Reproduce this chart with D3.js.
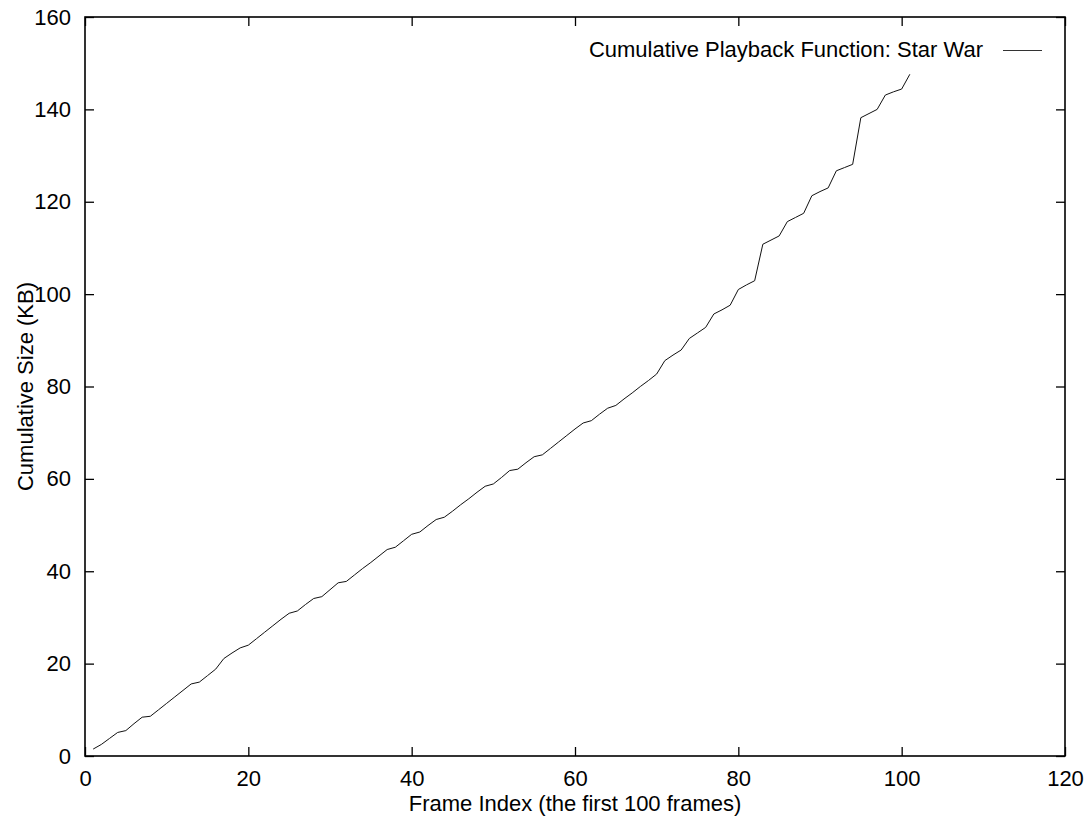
<!DOCTYPE html>
<html>
<head>
<meta charset="utf-8">
<script src="https://cdn.jsdelivr.net/npm/d3@7"></script>
<style>
  body { margin: 0; background: #fff; }
  svg { display: block; }
  text { font-family: "Liberation Sans", Arial, sans-serif; fill: #000; }
</style>
</head>
<body>
<svg width="1092" height="816"></svg>
<script>
const svg = d3.select("svg");
const width = +svg.attr("width");
const height = +svg.attr("height");

const margin = { top: 17, right: 27, bottom: 60, left: 85 };

/* ===== DATA ===== */

const frames = [
    1, 2, 3, 4, 5, 6, 7, 8, 9, 10,
    11, 12, 13, 14, 15, 16, 17, 18, 19, 20,
    21, 22, 23, 24, 25, 26, 27, 28, 29, 30,
    31, 32, 33, 34, 35, 36, 37, 38, 39, 40,
    41, 42, 43, 44, 45, 46, 47, 48, 49, 50,
    51, 52, 53, 54, 55, 56, 57, 58, 59, 60,
    61, 62, 63, 64, 65, 66, 67, 68, 69, 70,
    71, 72, 73, 74, 75, 76, 77, 78, 79, 80,
    81, 82, 83, 84, 85, 86, 87, 88, 89, 90,
    91, 92, 93, 94, 95, 96, 97, 98, 99, 100,
    101
];

const cumulativeKB = [
    1.5, 2.5, 3.8, 5.1, 5.5, 7.0, 8.4, 8.6, 10.0, 11.4,
    12.8, 14.2, 15.6, 16.0, 17.4, 18.8, 21.1, 22.3, 23.4, 24.0,
    25.4, 26.8, 28.2, 29.6, 30.9, 31.4, 32.8, 34.1, 34.5, 36.0,
    37.5, 37.8, 39.2, 40.6, 41.9, 43.3, 44.7, 45.2, 46.6, 48.0,
    48.5, 49.9, 51.2, 51.7, 53.0, 54.4, 55.7, 57.1, 58.4, 58.9,
    60.3, 61.8, 62.1, 63.5, 64.8, 65.2, 66.6, 68.0, 69.4, 70.8,
    72.1, 72.6, 74.0, 75.3, 75.9, 77.3, 78.6, 80.0, 81.3, 82.7,
    85.6, 86.8, 87.9, 90.4, 91.6, 92.8, 95.7, 96.6, 97.6, 101.0,
    102.0, 102.9, 110.8, 111.7, 112.6, 115.7, 116.6, 117.5, 121.3, 122.2,
    123.0, 126.7, 127.4, 128.1, 138.2, 139.1, 140.0, 143.1, 143.8, 144.4,
    147.6
];

const xTicks = [0, 20, 40, 60, 80, 100, 120];
const yTicks = [0, 20, 40, 60, 80, 100, 120, 140, 160];

const seriesName = "Cumulative Playback Function: Star War";
const xTitle = "Frame Index (the first 100 frames)";
const yTitle = "Cumulative Size (KB)";

const data = frames.map((f, i) => ({ frame: f, size: cumulativeKB[i] }));

/* ===== SCALES ===== */

const x = d3.scaleLinear()
    .domain([0, 120])
    .range([margin.left, width - margin.right]);

const y = d3.scaleLinear()
    .domain([0, 160])
    .range([height - margin.bottom, margin.top]);

const tickLen = 9;
const fontSize = 22;

/* ===== AXES ===== */

const bottomAxis = svg.append("g")
    .attr("transform", `translate(0,${y(0)})`)
    .call(d3.axisBottom(x).tickValues(xTicks).tickSize(-tickLen).tickPadding(14.5));

const leftAxis = svg.append("g")
    .attr("transform", `translate(${x(0)},0)`)
    .call(d3.axisLeft(y).tickValues(yTicks).tickSize(-tickLen).tickPadding(14));

const topAxis = svg.append("g")
    .attr("transform", `translate(0,${y(160)})`)
    .call(d3.axisTop(x).tickValues(xTicks).tickSize(-tickLen).tickFormat(""));

const rightAxis = svg.append("g")
    .attr("transform", `translate(${x(120)},0)`)
    .call(d3.axisRight(y).tickValues(yTicks).tickSize(-tickLen).tickFormat(""));

[bottomAxis, leftAxis, topAxis, rightAxis].forEach(g => {
    g.select(".domain").remove();
    g.selectAll(".tick line").attr("stroke", "#000").attr("stroke-width", 1.3);
    g.selectAll(".tick text")
        .attr("font-family", "Liberation Sans, Arial, sans-serif")
        .attr("font-size", fontSize)
        .attr("fill", "#000");
});

// frame
svg.append("rect")
    .attr("x", x(0))
    .attr("y", y(160))
    .attr("width", x(120) - x(0))
    .attr("height", y(0) - y(160))
    .attr("fill", "none")
    .attr("stroke", "#000")
    .attr("stroke-width", 1.6);

/* ===== LINE ===== */

const line = d3.line()
    .x(d => x(d.frame))
    .y(d => y(d.size));

svg.append("path")
    .datum(data)
    .attr("d", line)
    .attr("fill", "none")
    .attr("stroke", "#111")
    .attr("stroke-width", 1);

/* ===== LEGEND ===== */

svg.append("text")
    .attr("x", 983)
    .attr("y", 57)
    .attr("text-anchor", "end")
    .attr("font-size", fontSize)
    .text(seriesName);

svg.append("line")
    .attr("x1", 1003)
    .attr("x2", 1042)
    .attr("y1", 50.5)
    .attr("y2", 50.5)
    .attr("stroke", "#333")
    .attr("stroke-width", 1);

/* ===== TITLES ===== */

svg.append("text")
    .attr("x", (x(0) + x(120)) / 2)
    .attr("y", 811)
    .attr("text-anchor", "middle")
    .attr("font-size", fontSize)
    .text(xTitle);

svg.append("text")
    .attr("transform", `translate(33,${(y(0) + y(160)) / 2}) rotate(-90)`)
    .attr("text-anchor", "middle")
    .attr("font-size", fontSize)
    .text(yTitle);
</script>
</body>
</html>
